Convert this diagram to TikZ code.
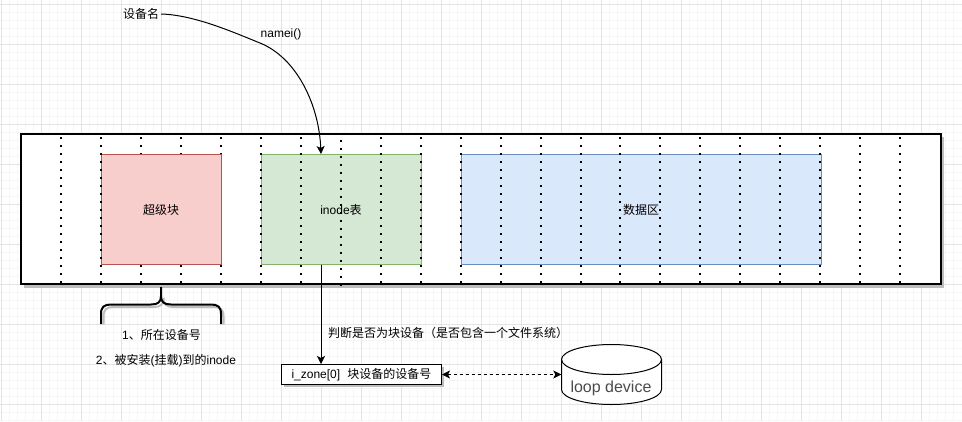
\documentclass[tikz,border=0pt]{standalone}
\usepackage{fontspec}
\setmainfont{Noto Sans CJK SC}
\newfontfamily\latf{Liberation Sans}
\newcommand{\la}[1]{{\latf #1}}
\usetikzlibrary{arrows.meta}
\definecolor{gridmajor}{HTML}{E4E4E4}
\definecolor{gridminor}{HTML}{F6F6F6}
\definecolor{shadowgrey}{HTML}{BDBDBD}
\tikzset{
  lbl/.style={inner sep=0pt,font=\fontsize{12pt}{14pt}\selectfont,text=black},
  block/.style={draw,line width=1pt,inner sep=0pt,minimum height=110pt},
  conn/.style={line width=1pt,-{Stealth[length=8pt,width=8pt,inset=2pt]}},
  dotline/.style={line width=2pt,dash pattern=on 2pt off 6pt},
  bracepath/.style={line width=2pt,line join=round}
}
\begin{document}
\begin{tikzpicture}[x=1pt,y=-1pt]
\useasboundingbox (0,0) rectangle (962,421);
\fill[white] (0,0) rectangle (962,421);
% grid
\foreach \x in {1.5,9.5,...,961} \draw[gridminor,line width=1pt] (\x,0) -- (\x,421);
\foreach \y in {4.5,12.5,...,421} \draw[gridminor,line width=1pt] (0,\y) -- (962,\y);
\foreach \x in {1.5,41.5,...,961} \draw[gridmajor,line width=1pt] (\x,0) -- (\x,421);
\foreach \y in {4.5,44.5,...,421} \draw[gridmajor,line width=1pt] (0,\y) -- (962,\y);
% outer frame
\fill[shadowgrey] (24,137) rectangle (944,287.5);
\node[draw=black,fill=white,line width=2pt,minimum width=920pt,minimum height=150pt,inner sep=0pt] (frame) at (481,209.25) {};
% dotted verticals hidden behind the red block
\foreach \x in {141,181,221}
  \draw[dotline] (\x,137.3) -- (\x,284);
% red block
\node[block,draw={rgb,255:red,184;green,84;blue,80},fill={rgb,255:red,248;green,206;blue,204},minimum width=120pt] (super) at (161.5,209.5) {};
% green and blue blocks
\node[block,draw={rgb,255:red,130;green,179;blue,102},fill={rgb,255:red,213;green,232;blue,212},minimum width=160pt] (inode) at (341.5,209.5) {};
\node[block,draw={rgb,255:red,108;green,142;blue,191},fill={rgb,255:red,218;green,232;blue,252},minimum width=360pt] (data) at (641.5,209.5) {};
% dotted verticals above the blocks
\foreach \x in {61,101,261,301,381,421,461,501,541,581,620,660,700,740,780,820,860,900}
  \draw[dotline] (\x,137.3) -- (\x,284);
\draw[dotline] (341,140.3) -- (341,286);
% block labels
\node[lbl] (superlbl) at (161,209.5) {超级块};
\node[lbl] (inodelbl) at (341,209.5) {\la{inode}表};
\node[lbl] (datalbl) at (641,209.5) {数据区};
% brace
\draw[shadowgrey,bracepath,shift={(2.5,2.5)}] (101,322) -- (101,314) .. controls (101,307) and (104,304.5) .. (111,304.5) -- (151,304.5) .. controls (158,304.5) and (161,302) .. (161,296) .. controls (161,302) and (164,304.5) .. (171,304.5) -- (211,304.5) .. controls (218,304.5) and (221,307) .. (221,314) -- (221,322);
\draw[black,bracepath] (101,324) -- (101,314) .. controls (101,307) and (104,304.5) .. (111,304.5) -- (151,304.5) .. controls (158,304.5) and (161,302) .. (161,296) -- (161,287) (161,296) .. controls (161,302) and (164,304.5) .. (171,304.5) -- (211,304.5) .. controls (218,304.5) and (221,307) .. (221,314) -- (221,324);
\node[lbl] (note1) at (161.5,335) {\la{1}、所在设备号};
\node[lbl] (note2) at (166,360.5) {\la{2}、被安装\la{(}挂载\la{)}到的\la{inode}};
% top text and curve
\node[lbl,minimum width=40pt,minimum height=16pt,align=center] (devname) at (141,14) {设备名};
\node[lbl] (nameilbl) at (281,34.5) {\la{namei()}};
\coordinate (inodein) at (321,154);
\coordinate (inodeout) at (321,264.5);
\coordinate (izonein) at (321,364);
\draw[conn,black] (devname.east) .. controls (195,15) and (235,33) .. (260,43) .. controls (297,58) and (319,105) .. (inodein);
% i_zone box
\fill[shadowgrey] (284,367) rectangle (444,387);
\node[draw=black,fill=white,line width=1pt,minimum width=160pt,minimum height=20pt,inner sep=0pt,font=\fontsize{12pt}{14pt}\selectfont,text=black] (izone) at (361.5,374.5) {\la{i\_zone[0]}\hspace{0.6em}块设备的设备号};
\draw[conn,black] (inodeout) -- (izonein);
\node[lbl,anchor=west] (judge) at (328,333) {判断是否为块设备（是否包含一个文件系统）};
% cylinder
\node[minimum width=100pt,minimum height=60pt,inner sep=0pt] (cyl) at (611.5,374.5) {};
\draw[black,fill=white,line width=1pt] (561.5,359.5) .. controls (561.5,351.2) and (583.9,344.5) .. (611.5,344.5) .. controls (639.1,344.5) and (661.5,351.2) .. (661.5,359.5) -- (661.5,389.5) .. controls (661.5,397.8) and (639.1,404.5) .. (611.5,404.5) .. controls (583.9,404.5) and (561.5,397.8) .. (561.5,389.5) -- cycle;
\draw[black,line width=1pt] (561.5,359.5) .. controls (561.5,367.8) and (583.9,374.5) .. (611.5,374.5) .. controls (639.1,374.5) and (661.5,367.8) .. (661.5,359.5);
\node[inner sep=0pt,font=\latf\fontsize{16pt}{18pt}\selectfont,text=black!70] (cyllbl) at (611,388) {loop device};
\draw[line width=1pt,dash pattern=on 3pt off 3pt,{Stealth[length=8pt,width=8pt,inset=2pt]}-{Stealth[length=8pt,width=8pt,inset=2pt]},black] (izone.east) -- (cyl.west);
\end{tikzpicture}
\end{document}
